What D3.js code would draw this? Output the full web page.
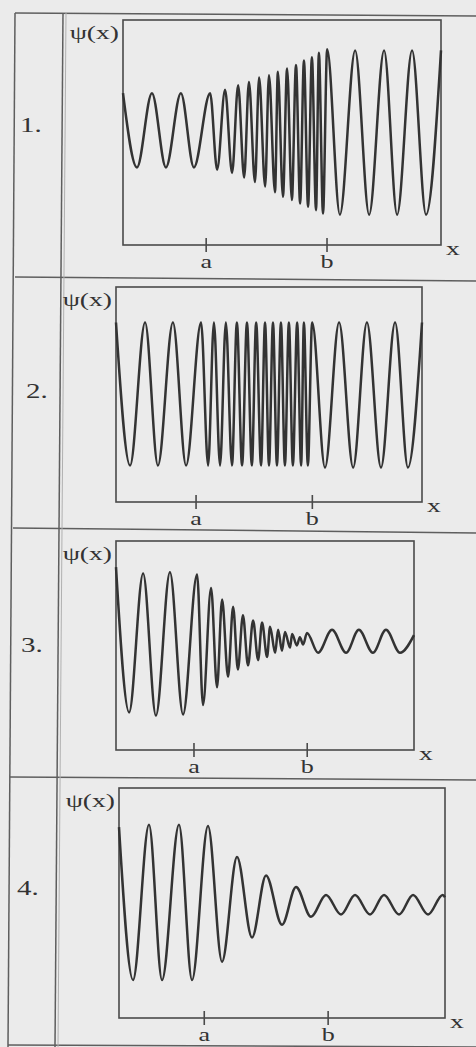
<!DOCTYPE html>
<html>
<head>
<meta charset="utf-8">
<script src="https://d3js.org/d3.v7.min.js"></script>
<style>
  body { margin: 0; background: #ebebeb; }
  svg { display: block; }
</style>
</head>
<body>
<div id="chart"></div>
<script>
// turning points of psi(x)
// x runs 0..10 across each plot box, psi runs -1..1 over the box half-height
var wave1X = [0, 0.44, 0.91, 1.35, 1.82, 2.23, 2.74, 2.96, 3.21, 3.43, 3.62, 3.81, 3.96, 4.15,
  4.28, 4.47, 4.59, 4.78, 4.87, 5.03, 5.16, 5.31, 5.44, 5.57, 5.69, 5.82, 5.94, 6.07, 6.16, 6.29,
  6.42, 6.82, 7.30, 7.74, 8.21, 8.62, 9.09, 9.53, 10.0];
var wave1Psi = [0.35, -0.31, 0.35, -0.31, 0.35, -0.31, 0.35, -0.33, 0.38, -0.36, 0.42, -0.40, 0.45, -0.44,
  0.49, -0.48, 0.51, -0.53, 0.54, -0.57, 0.57, -0.60, 0.60, -0.63, 0.64, -0.66, 0.67, -0.69, 0.71, -0.72,
  0.74, -0.73, 0.73, -0.73, 0.73, -0.73, 0.73, -0.73, 0.73];

var wave2X = [0, 0.46, 0.95, 1.37, 1.86, 2.29, 2.78, 3.01, 3.20, 3.40, 3.59, 3.79, 3.95, 4.12,
  4.28, 4.44, 4.58, 4.74, 4.87, 5.00, 5.13, 5.26, 5.39, 5.52, 5.65, 5.78, 5.92, 6.05, 6.14, 6.27,
  6.41, 6.83, 7.29, 7.75, 8.20, 8.66, 9.12, 9.54, 10.0];
var wave2Psi = [0.67, -0.66, 0.67, -0.66, 0.67, -0.66, 0.67, -0.66, 0.67, -0.66, 0.67, -0.66, 0.67, -0.66,
  0.67, -0.66, 0.67, -0.66, 0.67, -0.66, 0.67, -0.66, 0.67, -0.66, 0.67, -0.66, 0.67, -0.66, 0.67, -0.66,
  0.67, -0.68, 0.67, -0.68, 0.67, -0.68, 0.67, -0.68, 0.67];

var wave3X = [0, 0.44, 0.91, 1.34, 1.81, 2.25, 2.72, 2.92, 3.19, 3.39, 3.56, 3.76, 3.93, 4.09,
  4.26, 4.43, 4.60, 4.77, 4.90, 5.07, 5.17, 5.34, 5.44, 5.57, 5.67, 5.84, 5.91, 6.07, 6.17, 6.28,
  6.41, 6.78, 7.25, 7.72, 8.15, 8.62, 9.06, 9.53, 10.0];
var wave3Psi = [0.75, -0.64, 0.69, -0.67, 0.70, -0.66, 0.68, -0.57, 0.55, -0.40, 0.44, -0.30, 0.37, -0.23,
  0.29, -0.19, 0.24, -0.14, 0.22, -0.11, 0.18, -0.07, 0.15, -0.05, 0.13, -0.02, 0.11, 0.00, 0.08, 0.01,
  0.12, -0.07, 0.15, -0.07, 0.15, -0.07, 0.15, -0.07, 0.10];

var wave4X = [0, 0.43, 0.92, 1.32, 1.84, 2.24, 2.73, 3.16, 3.62, 4.08, 4.51, 5.00, 5.43, 5.89,
  6.35, 6.81, 7.24, 7.70, 8.13, 8.59, 9.02, 9.48, 9.93, 10.0];
var wave4Psi = [0.66, -0.67, 0.68, -0.67, 0.68, -0.67, 0.67, -0.51, 0.40, -0.30, 0.24, -0.19, 0.14, -0.12,
  0.07, -0.10, 0.07, -0.10, 0.07, -0.10, 0.07, -0.10, 0.07, 0.05];

var panelLabels = ["1.", "2.", "3.", "4."];
var tickPos = [2.6, 6.4];
var tickLabels = ["a", "b"];
var yLabel = "\u03c8(x)";
var xLabel = "x";

var width = 476, height = 1047;
var ink = "#333";
var stretch = 1.45;   // the scan is stretched sideways, text too

// where each plot sits on the page (the scan is a bit skewed)
var panels = [
  {left: 123, top: 20,  right: 441, bottom: 245,  numX: 20, numY: 132, xs: wave1X, ys: wave1Psi},
  {left: 116, top: 287, right: 422, bottom: 502,  numX: 26, numY: 398, xs: wave2X, ys: wave2Psi},
  {left: 116, top: 541, right: 414, bottom: 750,  numX: 21, numY: 652, xs: wave3X, ys: wave3Psi},
  {left: 119, top: 788, right: 445, bottom: 1018, numX: 17, numY: 895, xs: wave4X, ys: wave4Psi}
];

var svg = d3.select("#chart")
  .append("svg")
    .attr("width", width)
    .attr("height", height)
    .style("font-family", "'Liberation Serif', 'DejaVu Serif', serif");

svg.append("rect")
  .attr("width", width)
  .attr("height", height)
  .attr("fill", "#ebebeb");

// table frame
var frame = [
  [15, 13, 476, 16],
  [15, 277, 476, 281],
  [13, 528, 476, 533],
  [10, 777, 476, 780],
  [8, 1045, 476, 1047],
  [15, 13, 8, 1047],
  [63, 13, 55, 1047]
];
svg.append("g")
  .selectAll("line")
  .data(frame)
  .enter()
  .append("line")
    .attr("x1", function(d) { return d[0]; })
    .attr("y1", function(d) { return d[1]; })
    .attr("x2", function(d) { return d[2]; })
    .attr("y2", function(d) { return d[3]; })
    .attr("stroke", "#5e5e5e")
    .attr("stroke-width", 1.5);
// faint second rule next to the number column
svg.append("line")
  .attr("x1", 66).attr("y1", 13).attr("x2", 58).attr("y2", 1047)
  .attr("stroke", "#b0b0b0")
  .attr("stroke-width", 1);

panels.forEach(function(p, i) {
  var x = d3.scaleLinear().domain([0, 10]).range([p.left, p.right]);
  var y = d3.scaleLinear().domain([-1, 1]).range([p.bottom, p.top]);

  var g = svg.append("g");

  // plot box
  g.append("rect")
    .attr("x", p.left)
    .attr("y", p.top)
    .attr("width", p.right - p.left)
    .attr("height", p.bottom - p.top)
    .attr("fill", "none")
    .attr("stroke", "#4a4a4a")
    .attr("stroke-width", 1.6);

  // a and b ticks across the bottom edge
  var axis = g.append("g")
    .attr("transform", "translate(0," + (p.bottom - 7) + ")")
    .call(d3.axisBottom(x)
      .tickValues(tickPos)
      .tickSize(14)
      .tickPadding(3)
      .tickFormat(function(d, k) { return tickLabels[k]; }));
  axis.select(".domain").remove();
  axis.selectAll("line").attr("stroke", "#4a4a4a").attr("stroke-width", 1.6);
  axis.selectAll("text")
    .attr("fill", ink)
    .style("font-size", "18px")
    .attr("transform", "scale(" + stretch + ",1)");
  axis.attr("font-family", null).attr("font-size", null);

  // the wave
  var line = d3.line()
    .x(function(d) { return x(d[0]); })
    .y(function(d) { return y(d[1]); })
    .curve(d3.curveMonotoneX);
  g.append("path")
    .datum(d3.zip(p.xs, p.ys))
    .attr("d", line)
    .attr("fill", "none")
    .attr("stroke", ink)
    .attr("stroke-width", 2.5)
    .attr("stroke-linejoin", "round");

  // psi(x) label
  g.append("text")
    .attr("transform", "translate(" + (p.left - 4) + "," + (p.top + 19) + ") scale(" + stretch + ",1)")
    .style("text-anchor", "end")
    .style("font-size", "19px")
    .attr("fill", ink)
    .text(yLabel);

  // x label
  g.append("text")
    .attr("transform", "translate(" + (p.right + 5) + "," + (p.bottom + 10) + ") scale(" + stretch + ",1)")
    .style("font-size", "19px")
    .attr("fill", ink)
    .text(xLabel);

  // panel number
  g.append("text")
    .attr("transform", "translate(" + p.numX + "," + p.numY + ") scale(" + stretch + ",1)")
    .style("font-size", "20px")
    .attr("fill", ink)
    .text(panelLabels[i]);
});
</script>
</body>
</html>
